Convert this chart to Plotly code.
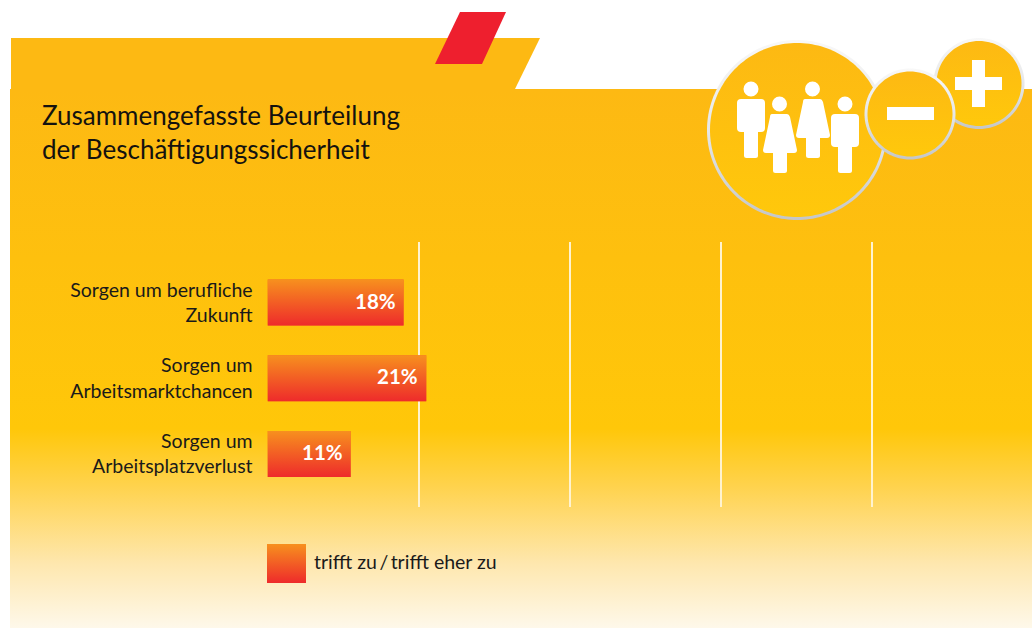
import numpy as np
import plotly.graph_objects as go

categories = ["Sorgen um berufliche<br>Zukunft", "Sorgen um<br>Arbeitsmarktchancen", "Sorgen um<br>Arbeitsplatzverlust"]
values = [18, 21, 11]
grid_ticks = [20, 40, 60, 80]
title_text = "Zusammengefasste Beurteilung<br>der Beschäftigungssicherheit"
legend_text = "trifft zu\u2009/\u2009trifft eher zu"

FONT = "Lato"
# colour stops run from the lowest axis value, which is the top edge here (y axes are reversed)
BAR_SCALE = [[0, "#F7901E"], [1, "#EE2B2B"]]
BAR_W = 0.607
positions = list(range(len(categories)))

fig = go.Figure()


def flip(scale):
    return [[1 - p, c] for p, c in reversed(scale)]


def poly(xs, ys, scale=None, color=None, xa="x", ya="y"):
    kw = dict(x=list(xs), y=list(ys), mode="none", fill="toself", xaxis=xa, yaxis=ya,
              hoverinfo="skip", showlegend=False)
    if scale:
        kw["fillgradient"] = dict(type="vertical", colorscale=flip(scale))
    else:
        kw["fillcolor"] = color
    fig.add_trace(go.Scatter(**kw))


def disc(cx, cy, r, scale):
    t = np.linspace(0, 2 * np.pi, 181)
    poly(cx + r * np.cos(t), cy + r * np.sin(t), scale=scale)


# page background (pixel axes)
poly([11, 540, 515, 11, 11], [38, 38, 89, 89, 38], color="#FDB913")
poly([10, 1032, 1032, 10, 10], [89, 89, 628, 628, 89],
     scale=[[0, "#FDB913"], [0.63, "#FFC709"], [0.74, "#FFD34F"], [0.88, "#FEE7AE"], [1, "#FEF8EA"]])
poly([460, 506, 482, 435, 460], [12, 12, 64, 64, 12], color="#EE1F2E")

RING = [[0, "#F8F8F8"], [0.5, "#E6E7E8"], [1, "#C4C6C8"]]
FILL = [[0, "#FDB913"], [1, "#FFC80B"]]
for cx, cy, r in [(797, 130, 90), (979, 83.5, 45.5), (910, 114, 45.5)]:
    disc(cx, cy, r, RING)
    disc(cx, cy, r - 3, FILL)

# legend swatch
poly([267, 306, 306, 267, 267], [544, 544, 583, 583, 544], scale=BAR_SCALE)

# data bars
fig.add_trace(go.Bar(x=values, y=positions, orientation="h", width=BAR_W, marker=dict(color="#F35F25", line_width=0),
                     xaxis="x2", yaxis="y2", hoverinfo="skip", showlegend=False))
for v, p in zip(values, positions):
    poly([0, v, v, 0, 0], [p - BAR_W / 2, p - BAR_W / 2, p + BAR_W / 2, p + BAR_W / 2, p - BAR_W / 2],
         scale=BAR_SCALE, xa="x2", ya="y2")

ann = [
    dict(x=40, y=132, xref="x", yref="y", text=title_text, showarrow=False, xanchor="left", yanchor="middle",
         align="left", font=dict(family=FONT, size=26, color="#14120f")),
    dict(x=312, y=561, xref="x", yref="y", text=legend_text, showarrow=False, xanchor="left", yanchor="middle",
         font=dict(family=FONT, size=19.5, color="#1a1a1a")),
]
for v, p in zip(values, positions):
    ann.append(dict(x=v, y=p, xref="x2", yref="y2", text=f"<b>{v}%</b>", showarrow=False, xanchor="right",
                    xshift=-6, yshift=2, yanchor="middle", font=dict(family=FONT, size=20.5, color="white")))

W = "#FFFFFF"


def rrect(x0, y0, x1, y1, r=2.5):
    return (f"M{x0 + r},{y0} L{x1 - r},{y0} Q{x1},{y0} {x1},{y0 + r} L{x1},{y1 - r} Q{x1},{y1} {x1 - r},{y1} "
            f"L{x0 + r},{y1} Q{x0},{y1} {x0},{y1 - r} L{x0},{y0 + r} Q{x0},{y0} {x0 + r},{y0} Z")


def shape_path(p):
    return dict(type="path", path=p, xref="x", yref="y", fillcolor=W, line_width=0, layer="above")


def head(cx, cy, r=7.5):
    return dict(type="circle", x0=cx - r, x1=cx + r, y0=cy - r, y1=cy + r, xref="x", yref="y",
                fillcolor=W, line_width=0, layer="above")


def man(x, y):
    return [head(x + 14, y - 10), shape_path(rrect(x, y, x + 28, y + 33, 4)),
            shape_path(rrect(x + 7, y + 28, x + 21, y + 59))]


def woman(x, y):
    dress = (f"M{x + 9},{y} L{x + 24},{y} Q{x + 26},{y} {x + 27},{y + 3} L{x + 34},{y + 36} Q{x + 34},{y + 39} {x + 31},{y + 39} "
             f"L{x + 3},{y + 39} Q{x},{y + 39} {x},{y + 36} L{x + 7},{y + 3} Q{x + 7},{y} {x + 9},{y} Z")
    return [head(x + 16.5, y - 10), shape_path(dress), shape_path(rrect(x + 10, y + 34, x + 24, y + 59))]


shapes = man(737, 99) + woman(763, 114) + woman(796, 99) + man(831, 114)
shapes += [
    dict(type="rect", x0=887, x1=934, y0=107, y1=120, xref="x", yref="y", fillcolor=W, line_width=0, layer="above"),
    dict(type="rect", x0=955, x1=1002, y0=77, y1=90, xref="x", yref="y", fillcolor=W, line_width=0, layer="above"),
    dict(type="rect", x0=972, x1=985, y0=60, y1=107, xref="x", yref="y", fillcolor=W, line_width=0, layer="above"),
]

fig.update_layout(
    width=1032, height=628, margin=dict(l=0, r=0, t=0, b=0), paper_bgcolor="white", plot_bgcolor="rgba(0,0,0,0)",
    showlegend=False, annotations=ann, shapes=shapes, font=dict(family=FONT),
    xaxis=dict(domain=[0, 1], range=[0, 1032], visible=False, fixedrange=True),
    yaxis=dict(domain=[0, 1], range=[628, 0], visible=False, fixedrange=True),
    xaxis2=dict(domain=[267.5 / 1032, 1023.5 / 1032], range=[0, 100], anchor="y2", tickvals=grid_ticks,
                showticklabels=False, ticks="", showgrid=True, gridcolor="#FFF3CF", gridwidth=1.5,
                zeroline=False, showline=False, fixedrange=True),
    yaxis2=dict(domain=[1 - 507 / 628, 1 - 242 / 628], range=[2.7, -0.8], anchor="x2", tickvals=positions,
                ticktext=categories, ticks="outside", ticklen=10, tickcolor="rgba(0,0,0,0)", showgrid=False,
                zeroline=False, showline=False, fixedrange=True,
                tickfont=dict(family=FONT, size=19.5, color="#1a1a1a")),
)

fig.write_html("out.html", config={"displayModeBar": False}, post_script="document.body.style.margin='0';")
